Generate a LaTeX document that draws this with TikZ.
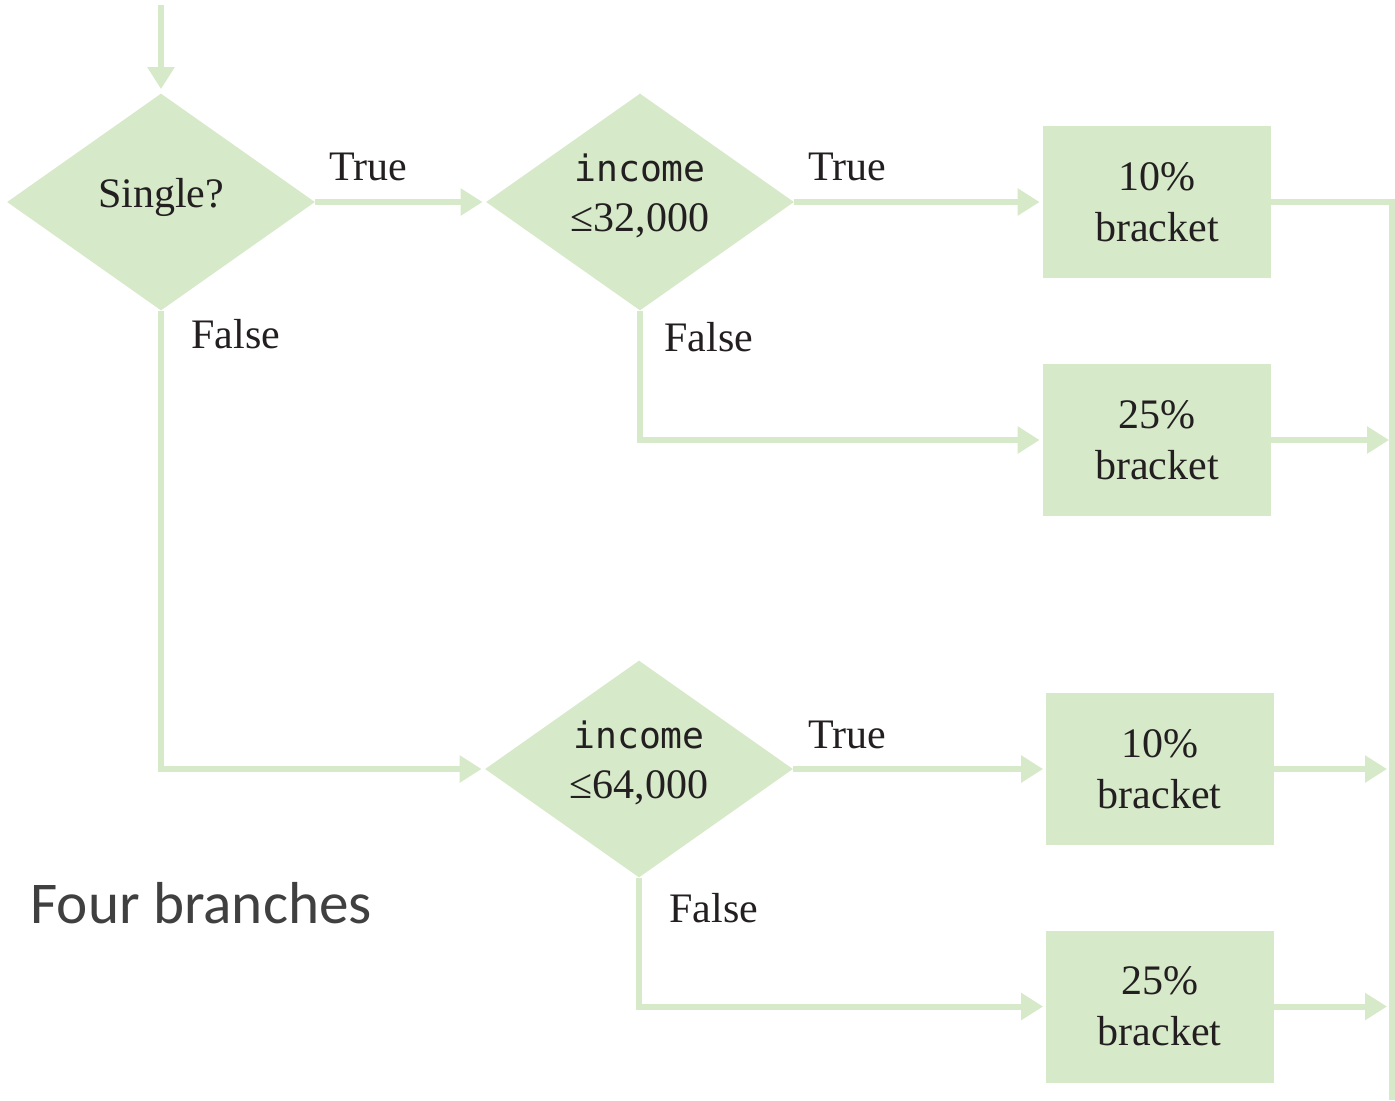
\documentclass[tikz,border=0pt]{standalone}
\usepackage{fontspec}
\setmainfont{Liberation Serif}
\newfontfamily\codefont{DejaVu Sans Mono}
\newfontfamily\capfont{Carlito}
\usetikzlibrary{shapes.geometric,arrows.meta}
\definecolor{flowgreen}{RGB}{214,233,201}
\definecolor{captiongray}{RGB}{64,64,64}
\definecolor{inkdark}{RGB}{35,31,32}

\begin{document}
\begin{tikzpicture}[x=0.5pt,y=-0.5pt,
  decision/.style={diamond, fill=flowgreen, inner sep=0pt, aspect=1.42,
    minimum width=154pt, minimum height=108.5pt},
  bracketbox/.style={rectangle, fill=flowgreen, inner sep=0pt,
    minimum width=114pt, minimum height=76pt, align=center, text=inkdark,
    font=\fontsize{21}{25.5}\selectfont},
  condtext/.style={inner sep=0pt, align=center, text=inkdark, font=\fontsize{21}{25}\selectfont},
  flow/.style={draw=flowgreen, line width=3pt, -{Triangle[width=13pt,length=11pt]}},
  rail/.style={draw=flowgreen, line width=3pt},
  edgelabel/.style={inner sep=0pt, anchor=base west, text=inkdark, font=\fontsize{21}{26}\selectfont}]

\useasboundingbox (0,0) rectangle (1395,1100);

% decisions
\node[decision, label={[name=d1t, condtext, yshift=2.5pt]center:Single?}] (d1) at (161,202) {};
\node[decision, label={[name=d2t, condtext, yshift=3pt]center:{{\codefont\fontsize{18.2}{25}\selectfont income}\\≤32,000}}] (d2) at (640,202) {};
\node[decision, label={[name=d3t, condtext, yshift=3pt]center:{{\codefont\fontsize{18.2}{25}\selectfont income}\\≤64,000}}] (d3) at (639,769) {};

% outcomes
\node[bracketbox] (b1) at (1157,202) {10\%\\bracket};
\node[bracketbox] (b2) at (1157,440) {25\%\\bracket};
\node[bracketbox] (b3) at (1159.5,769) {10\%\\bracket};
\node[bracketbox] (b4) at (1159.5,1006.5) {25\%\\bracket};

% branch labels
\node[edgelabel] (t1) at (329,180) {True};
\node[edgelabel] (f1) at (191,348) {False};
\node[edgelabel] (t2) at (808,180) {True};
\node[edgelabel] (f2) at (664,351) {False};
\node[edgelabel] (t3) at (808,748) {True};
\node[edgelabel] (f3) at (669,922) {False};

% caption
\node[inner sep=0pt, anchor=base west, text=captiongray,
  font=\capfont\fontsize{29.6}{34}\selectfont] (caption) at (30,923) {Four branches};

% connectors
\coordinate (entry) at (161,5);
\coordinate (railtop) at (1392,202);
\coordinate (railend) at (1392,1100);

\draw[flow, shorten >=2pt] (entry) -- (d1.north);
\draw[flow, shorten >=1.5pt] (d1.east) -- (d2.west);
\draw[flow, shorten >=1.5pt] (d2.east) -- (b1.west);
\draw[flow, shorten >=1.5pt] (d2.south) |- (b2.west);
\draw[flow, shorten >=1.5pt] (d1.south) |- (d3.west);
\draw[flow, shorten >=1pt] (d3.east) -- (b3.west);
\draw[flow, shorten >=1pt] (d3.south) |- (b4.west);

\draw[rail] (b1.east) -- (railtop) -- (railend);
\draw[flow, shorten >=1.5pt] (b2.east) -- (b2.east -| railtop);
\draw[flow, shorten >=2.5pt] (b3.east) -- (b3.east -| railtop);
\draw[flow, shorten >=2.5pt] (b4.east) -- (b4.east -| railtop);

\end{tikzpicture}
\end{document}
